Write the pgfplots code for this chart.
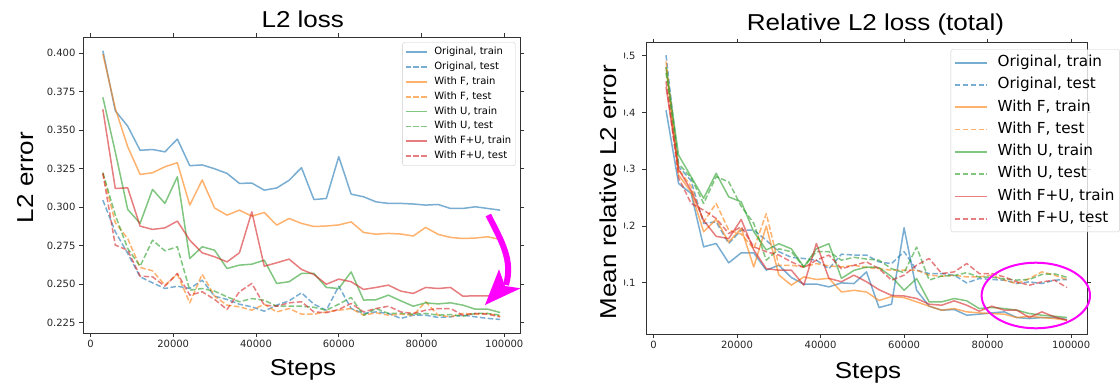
\documentclass[border=0pt]{standalone}
\usepackage{fontspec}
\setmainfont{DejaVu Sans}
\newfontfamily\labfont[FakeStretch=1.13]{Liberation Sans}
\usepackage{pgfplots}
\pgfplotsset{compat=1.18}
\usepackage{pgfplotstable}

\definecolor{c0}{HTML}{1F77B4}
\definecolor{c1}{HTML}{FF7F0E}
\definecolor{c2}{HTML}{2CA02C}
\definecolor{c3}{HTML}{D62728}
\definecolor{legframe}{HTML}{CCCCCC}
\definecolor{spine}{HTML}{333333}
\definecolor{hl}{HTML}{FF00FF}

\pgfplotstableread{
x bt bv ft fv ut uv rt rv
3000 0.4017 0.3046 0.3996 0.3220 0.3714 0.3225 0.3636 0.3220
6000 0.3627 0.2841 0.3642 0.2900 0.3360 0.2950 0.3122 0.2754
9000 0.3527 0.2700 0.3393 0.2797 0.2986 0.2732 0.3126 0.2721
12000 0.3370 0.2548 0.3213 0.2609 0.2895 0.2617 0.2877 0.2552
15000 0.3375 0.2509 0.3224 0.2587 0.3116 0.2786 0.2856 0.2548
18000 0.3360 0.2472 0.3263 0.2494 0.3025 0.2717 0.2866 0.2487
21000 0.3443 0.2487 0.3289 0.2565 0.3198 0.2743 0.2910 0.2570
24000 0.3270 0.2472 0.3014 0.2379 0.2667 0.2461 0.2786 0.2429
27000 0.3275 0.2526 0.3177 0.2565 0.2743 0.2472 0.2704 0.2451
30000 0.3250 0.2422 0.2995 0.2422 0.2721 0.2455 0.2678 0.2401
33000 0.3220 0.2401 0.2949 0.2364 0.2602 0.2418 0.2645 0.2336
36000 0.3155 0.2370 0.2981 0.2353 0.2624 0.2386 0.2704 0.2451
39000 0.3157 0.2353 0.2942 0.2331 0.2630 0.2407 0.2970 0.2505
42000 0.3111 0.2325 0.2966 0.2370 0.2656 0.2396 0.2617 0.2364
45000 0.3125 0.2364 0.2884 0.2320 0.2505 0.2357 0.2639 0.2357
48000 0.3175 0.2392 0.2927 0.2342 0.2516 0.2357 0.2663 0.2379
51000 0.3257 0.2444 0.2895 0.2305 0.2570 0.2357 0.2596 0.2386
54000 0.3050 0.2370 0.2875 0.2305 0.2570 0.2350 0.2563 0.2320
57000 0.3057 0.2331 0.2878 0.2320 0.2479 0.2331 0.2500 0.2315
60000 0.3328 0.2487 0.2885 0.2331 0.2472 0.2370 0.2533 0.2336
63000 0.3085 0.2342 0.2905 0.2342 0.2580 0.2414 0.2516 0.2375
66000 0.3068 0.2310 0.2836 0.2299 0.2397 0.2299 0.2466 0.2320
69000 0.3035 0.2320 0.2825 0.2314 0.2399 0.2342 0.2479 0.2342
72000 0.3025 0.2310 0.2830 0.2299 0.2429 0.2310 0.2494 0.2357
75000 0.3025 0.2278 0.2826 0.2305 0.2392 0.2310 0.2455 0.2320
78000 0.3021 0.2299 0.2813 0.2299 0.2357 0.2305 0.2440 0.2310
81000 0.3014 0.2299 0.2869 0.2386 0.2379 0.2310 0.2479 0.2331
84000 0.3018 0.2284 0.2824 0.2299 0.2372 0.2299 0.2472 0.2342
87000 0.2992 0.2288 0.2804 0.2288 0.2379 0.2303 0.2479 0.2342
90000 0.2992 0.2299 0.2797 0.2310 0.2364 0.2292 0.2422 0.2299
93000 0.3003 0.2288 0.2800 0.2305 0.2338 0.2310 0.2425 0.2310
96000 0.2992 0.2278 0.2808 0.2310 0.2338 0.2310 0.2424 0.2305
99000 0.2981 0.2271 0.2791 0.2292 0.2316 0.2299 0.2418 0.2288
}\lefttab

\pgfplotstableread{
x bt bv ft fv ut uv rt rv
3000 0.404 0.501 0.480 0.490 0.480 0.470 0.445 0.455
6000 0.275 0.305 0.290 0.300 0.325 0.310 0.300 0.285
9000 0.2575 0.280 0.260 0.270 0.287 0.285 0.263 0.240
12000 0.1635 0.2047 0.190 0.2075 0.249 0.240 0.210 0.228
15000 0.1694 0.2075 0.212 0.240 0.293 0.287 0.182 0.2135
18000 0.1353 0.1694 0.172 0.193 0.2515 0.278 0.178 0.187
21000 0.1529 0.193 0.196 0.186 0.2427 0.235 0.2117 0.1987
24000 0.1529 0.193 0.128 0.160 0.190 0.205 0.158 0.1635
27000 0.1224 0.175 0.200 0.222 0.158 0.140 0.125 0.155
30000 0.1312 0.155 0.114 0.131 0.169 0.160 0.1224 0.149
33000 0.1095 0.145 0.096 0.131 0.160 0.155 0.1224 0.137
36000 0.0977 0.143 0.1106 0.128 0.128 0.128 0.096 0.127
39000 0.0980 0.140 0.106 0.134 0.160 0.155 0.1694 0.140
42000 0.0930 0.125 0.108 0.130 0.169 0.155 0.108 0.149
45000 0.1000 0.1506 0.084 0.128 0.108 0.140 0.102 0.125
48000 0.0988 0.149 0.087 0.131 0.122 0.145 0.1136 0.131
51000 0.1194 0.149 0.084 0.127 0.128 0.142 0.102 0.137
54000 0.0566 0.137 0.069 0.125 0.127 0.140 0.088 0.125
57000 0.0625 0.134 0.076 0.1224 0.111 0.125 0.078 0.1048
60000 0.197 0.155 0.074 0.1224 0.087 0.118 0.077 0.1136
63000 0.087 0.1224 0.0666 0.1224 0.1077 0.163 0.0725 0.1312
66000 0.059 0.1165 0.059 0.1136 0.0666 0.105 0.0625 0.143
69000 0.0519 0.1165 0.0519 0.1118 0.0666 0.112 0.0607 0.1165
72000 0.0531 0.1136 0.0548 0.1136 0.0725 0.113 0.0684 0.1194
75000 0.0431 0.100 0.049 0.1106 0.0684 0.118 0.0607 0.1341
78000 0.0449 0.1077 0.0472 0.1106 0.0548 0.110 0.0501 0.1165
81000 0.0472 0.106 0.046 0.1136 0.0567 0.110 0.059 0.1165
84000 0.049 0.1048 0.0449 0.1048 0.0548 0.107 0.0519 0.1106
87000 0.039 0.0989 0.039 0.0989 0.0519 0.105 0.0519 0.1018
90000 0.0372 0.1018 0.0413 0.1077 0.046 0.106 0.039 0.0959
93000 0.039 0.0989 0.039 0.1194 0.0431 0.115 0.049 0.1018
96000 0.039 0.1048 0.0372 0.1136 0.0413 0.116 0.0402 0.1048
99000 0.0354 0.106 0.0343 0.106 0.039 0.110 0.0343 0.0918
}\righttab

\pgfplotsset{
  common/.style={
    scale only axis,
    xmin=-1800, xmax=103800,
    tick align=outside, major tick length=4pt,
    axis line style={spine, line width=0.8pt},
    tick style={spine, line width=0.8pt},
    xtick={0,20000,40000,60000,80000,100000},
    scaled x ticks=false, scaled y ticks=false,
    xticklabel style={/pgf/number format/.cd, fixed, 1000 sep={}},
    ticklabel style={font=\fontsize{10}{12}\selectfont, text=black!85},
    /pgf/number format/assume math mode=true,
    legend cell align=left,
    every axis plot/.append style={line width=1.5pt, draw opacity=0.6, line join=round},
  },
  dl/.style={dash pattern=on 5.5pt off 2.4pt},
}

\begin{document}
\begin{tikzpicture}
\useasboundingbox (0pt,0pt) rectangle (1120pt,384pt);

% ---------------- left axis ----------------
\begin{axis}[common,
  at={(83pt,51pt)}, anchor=south west,
  width=437pt, height=296pt,
  ymin=0.2183, ymax=0.4106,
  ytick={0.225,0.25,0.275,0.3,0.325,0.35,0.375,0.4},
  yticklabel style={/pgf/number format/.cd, fixed, fixed zerofill, precision=3},
  legend image code/.code={\draw[#1, line width=1.8pt, draw opacity=0.6] plot coordinates {(0pt,0pt) (21.7pt,0pt)}; \path (26pt,0pt);},
  legend style={at={(0.731,0.982)}, anchor=north west,
    draw=legframe, fill=white, fill opacity=0.8, text opacity=1,
    rounded corners=2pt, font=\fontsize{10}{12}\selectfont,
    inner xsep=2pt, inner ysep=2pt,
    nodes={text height=7.4pt, text depth=2.5pt, inner ysep=2.5pt}},
]
\addplot[c0] table[x=x,y=bt]{\lefttab}; \addlegendentry{Original, train}
\addplot[c0,dl] table[x=x,y=bv]{\lefttab}; \addlegendentry{Original, test}
\addplot[c1] table[x=x,y=ft]{\lefttab}; \addlegendentry{With F, train}
\addplot[c1,dl] table[x=x,y=fv]{\lefttab}; \addlegendentry{With F, test}
\addplot[c2] table[x=x,y=ut]{\lefttab}; \addlegendentry{With U, train}
\addplot[c2,dl] table[x=x,y=uv]{\lefttab}; \addlegendentry{With U, test}
\addplot[c3] table[x=x,y=rt]{\lefttab}; \addlegendentry{With F+U, train}
\addplot[c3,dl] table[x=x,y=rv]{\lefttab}; \addlegendentry{With F+U, test}
\end{axis}

% ---------------- right axis ----------------
\begin{axis}[common,
  at={(646pt,50pt)}, anchor=south west,
  width=441pt, height=291.3pt,
  ymin=0.010, ymax=0.523,
  ytick={0.1,0.2,0.3,0.4,0.5},
  yticklabel style={xshift=-3pt, /pgf/number format/.cd, fixed, precision=1},
  legend image code/.code={\draw[#1, line width=1.8pt, draw opacity=0.6] plot coordinates {(0pt,0pt) (32pt,0pt)}; \path (40pt,0pt);},
  legend style={at={(0.691,0.9773)}, anchor=north west,
    draw=legframe, fill=white, fill opacity=0.8, text opacity=1,
    rounded corners=2pt, font=\fontsize{15.2}{18}\selectfont,
    inner xsep=3pt, inner ysep=2pt,
    nodes={text height=11.2pt, text depth=3.6pt, inner ysep=3.75pt}},
]
\addplot[c0] table[x=x,y=bt]{\righttab}; \addlegendentry{Original, train}
\addplot[c0,dl] table[x=x,y=bv]{\righttab}; \addlegendentry{Original, test}
\addplot[c1] table[x=x,y=ft]{\righttab}; \addlegendentry{With F, train}
\addplot[c1,dl] table[x=x,y=fv]{\righttab}; \addlegendentry{With F, test}
\addplot[c2] table[x=x,y=ut]{\righttab}; \addlegendentry{With U, train}
\addplot[c2,dl] table[x=x,y=uv]{\righttab}; \addlegendentry{With U, test}
\addplot[c3] table[x=x,y=rt]{\righttab}; \addlegendentry{With F+U, train}
\addplot[c3,dl] table[x=x,y=rv]{\righttab}; \addlegendentry{With F+U, test}
\end{axis}

% the right panel is a cropped screenshot: its left edge cuts the tick labels
\fill[white] (560pt,45pt) rectangle (624pt,340pt);

% ---------------- titles and labels ----------------
\node[anchor=base, inner sep=0pt] at (302.8pt,356.3pt) {\labfont\fontsize{23}{27}\selectfont L2 loss};
\node[anchor=base, inner sep=0pt] at (875.5pt,353.3pt) {\labfont\fontsize{23}{27}\selectfont Relative L2 loss (total)};
\node[anchor=base, inner sep=0pt] at (303pt,9pt) {\labfont\fontsize{23}{27}\selectfont Steps};
\node[anchor=base, inner sep=0pt] at (868pt,6pt) {\labfont\fontsize{23}{27}\selectfont Steps};
\node[anchor=base, inner sep=0pt, rotate=90] at (33pt,206.5pt) {\labfont\fontsize{23}{27}\selectfont L2 error};
\node[anchor=base, inner sep=0pt, rotate=90] at (616pt,192pt) {\labfont\fontsize{23}{27}\selectfont Mean relative L2 error};

% ---------------- magenta annotations ----------------
\draw[hl, line width=6pt] (488.3pt,169pt) .. controls (502pt,142pt) and (513pt,124pt) .. (506pt,99pt);
\fill[hl] (485pt,79pt) -- (499pt,114.7pt) -- (505pt,98pt) -- (520.7pt,95.7pt) -- cycle;
\draw[hl, line width=2pt] (1035.8pt,88.5pt) ellipse [x radius=54.2pt, y radius=32.8pt];
\end{tikzpicture}
\end{document}
